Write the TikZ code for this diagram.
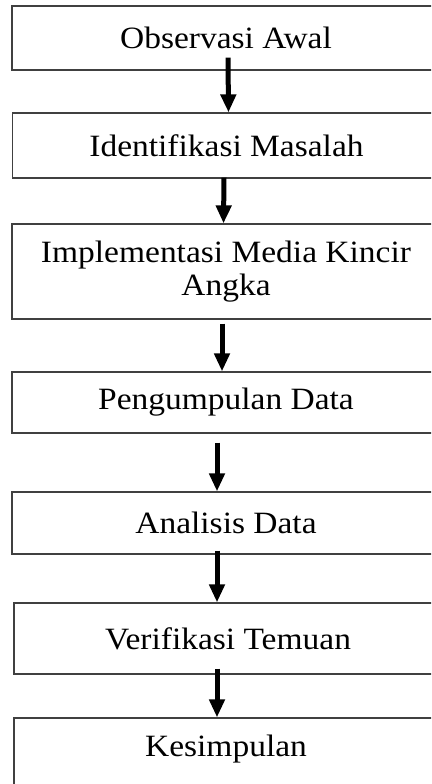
\documentclass[tikz,border=0pt]{standalone}
\usepackage{fontspec}
\setmainfont{Liberation Serif}[FakeStretch=1.08]
\usetikzlibrary{arrows.meta}
\begin{document}
\begin{tikzpicture}[x=1pt,y=-1pt,
  stepbox/.style={draw=black!75, line width=1.2pt, rectangle, anchor=center,
    minimum width=428pt, inner sep=0pt, align=center,
    font=\fontsize{31}{30}\selectfont},
  flow/.style={line width=5pt, -{Triangle[width=15pt,length=18pt]}}]
\useasboundingbox (0,0) rectangle (431,784);
\clip (0,0) rectangle (431,784);
% process steps (boxes run past the right and bottom edges)
\node[stepbox, minimum height=64pt] (b1) at (226,38) {Observasi Awal};
\node[stepbox, minimum height=65pt] (b2) at (226.5,145.5) {Identifikasi Masalah};
\node[stepbox, minimum height=95pt] (b3) at (226,271.5) {Implementasi Media Kincir\\[3pt]Angka};
\node[stepbox, minimum height=61pt] (b4) at (226,402.5) {Pengumpulan Data};
\node[stepbox, minimum height=62pt] (b5) at (226,523) {Analisis Data};
\node[stepbox, minimum height=71pt] (b6) at (228,638.5) {Verifikasi Temuan};
\node[stepbox, minimum height=72pt] (b7) at (228,754) {};
\node[font=\fontsize{31}{30}\selectfont] (t7) at (226,749) {Kesimpulan};
% connectors
\draw[flow] ([xshift=2pt,yshift=13pt]b1.south) -- ([xshift=2pt]b2.north);
\draw[flow] ([xshift=-2.5pt,yshift=1pt]b2.south) -- ([xshift=-2.5pt]b3.north);
\draw[flow] ([xshift=-4pt,yshift=-4pt]b3.south) -- ([xshift=-4pt]b4.north);
\draw[flow] ([xshift=-9pt,yshift=-9pt]b4.south) -- ([xshift=-9pt]b5.north);
\draw[flow] ([xshift=-9pt,yshift=4pt]b5.south) -- ([xshift=-11pt]b6.north);
\draw[flow] ([xshift=-11pt,yshift=6pt]b6.south) -- ([xshift=-11pt]b7.north);
\end{tikzpicture}
\end{document}
